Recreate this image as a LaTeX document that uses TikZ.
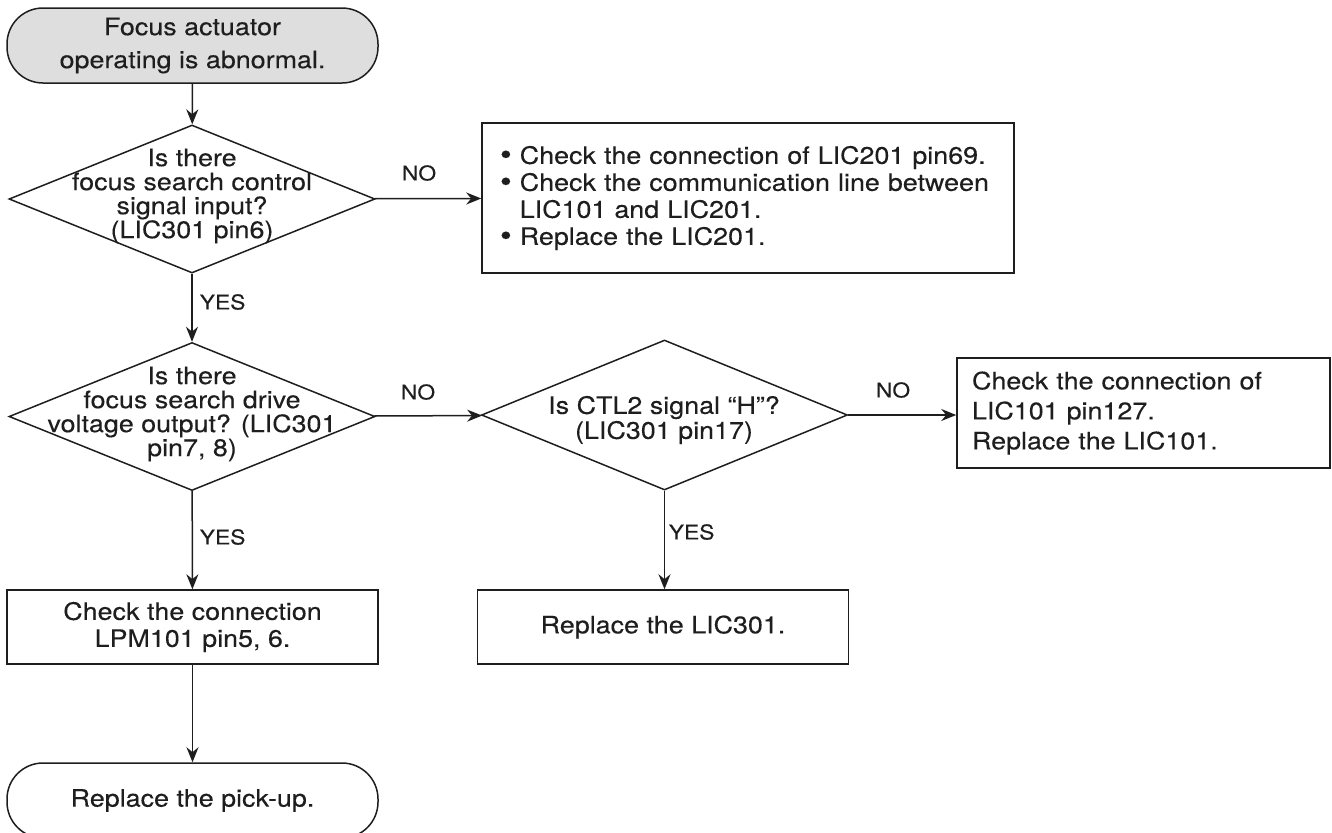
\documentclass[tikz,border=0pt]{standalone}
\usepackage{fontspec}
\setmainfont{TeX Gyre Heros}[FakeStretch=1.12, FakeBold=0.2]
\usetikzlibrary{arrows.meta,shapes.geometric}
\definecolor{ink}{RGB}{30,30,30}
\definecolor{startgray}{RGB}{222,222,222}
\newcommand{\bul}{{\fontsize{15}{13.5}\selectfont\raisebox{-0.4pt}{\textbullet}}\ }

\begin{document}
\begin{tikzpicture}[
      x=0.5pt, y=-0.5pt, >={Stealth[length=7.5pt,width=6pt]},
      line width=0.75pt, draw=ink, text=ink,
      font=\fontsize{12}{13.5}\selectfont,
      term/.style={draw, rounded corners=18pt, align=center, inner sep=0pt,
                   minimum width=185.5pt, minimum height=37.5pt,
                   font=\fontsize{12}{16.5}\selectfont},
      dia/.style={draw, diamond, inner sep=0pt, minimum width=183pt, minimum height=74pt},
      qtxt/.style={align=center, inner sep=0pt, font=\fontsize{12}{12}\selectfont},
      box/.style={draw, rectangle, align=center, inner sep=0pt,
                  minimum width=185.5pt, minimum height=37pt},
      lbl/.style={inner sep=0pt, font=\fontsize{10.2}{12}\selectfont},
    ]
    \useasboundingbox (0,0) rectangle (1332,832);

    % main column
    \node[term, fill=startgray] (start) at (192.5,45.5)
      {Focus actuator\\operating is abnormal.};
    \node[dia] (q1) at (192,199) {};
    \node[qtxt] (q1txt) at (192,196)
      {Is there\\focus search control\\signal input?\\(LIC301 pin6)};
    \node[dia] (q2) at (192,416.5) {};
    \node[qtxt] (q2txt) at (192,414)
      {Is there\\focus search drive\\voltage output? (LIC301\\pin7, 8)};
    \node[box] (lpm) at (192.5,627)
      {Check the connection\\LPM101 pin5, 6.};
    \node[term] (pickup) at (192.5,800.5) {Replace the pick-up.};

    % right side
    \node[box, minimum width=266pt, minimum height=75pt, inner xsep=9pt,
          text width=248pt, align=left] (lic201) at (748,198)
      {\bul Check the connection of LIC201 pin69.\\
       \bul Check the communication line between\\
       \hphantom{\bul}LIC101 and LIC201.\\
       \bul Replace the LIC201.};
    \node[dia, minimum height=75pt] (q3) at (664.5,415) {};
    \node[qtxt, font=\fontsize{12}{12.5}\selectfont] (q3txt) at (664,420)
      {Is CTL2 signal ``H''?\\(LIC301 pin17)};
    \node[box, minimum width=186.5pt, minimum height=55pt, inner xsep=7.5pt,
          text width=171.5pt, align=left, font=\fontsize{12}{15}\selectfont] (lic101) at (1143.5,413)
      {Check the connection of\\LIC101 pin127.\\Replace the LIC101.};
    \node[box] (lic301) at (663,627) {Replace the LIC301.};

    % connectors
    \draw[->] (start) -- (q1);
    \draw[->] (q1) -- (lic201);
    \draw[->] (q1) -- (q2);
    \draw[->] (q2) -- (q3);
    \draw[->] (q2) -- (lpm);
    \draw[->] (lpm) -- (pickup);
    \draw[->] (q3.east) -- (q3.east -| lic101.west);
    \draw[->] (q3) -- (q3 |- lic301.north);

    % branch labels
    \node[lbl] (no1) at (419,173) {NO};
    \node[lbl] (no2) at (418,392) {NO};
    \node[lbl] (no3) at (893,390) {NO};
    \node[lbl, anchor=west] (yes1) at (199,302) {YES};
    \node[lbl, anchor=west] (yes2) at (199,537) {YES};
    \node[lbl, anchor=west] (yes3) at (668,532) {YES};
  \end{tikzpicture}
\end{document}
